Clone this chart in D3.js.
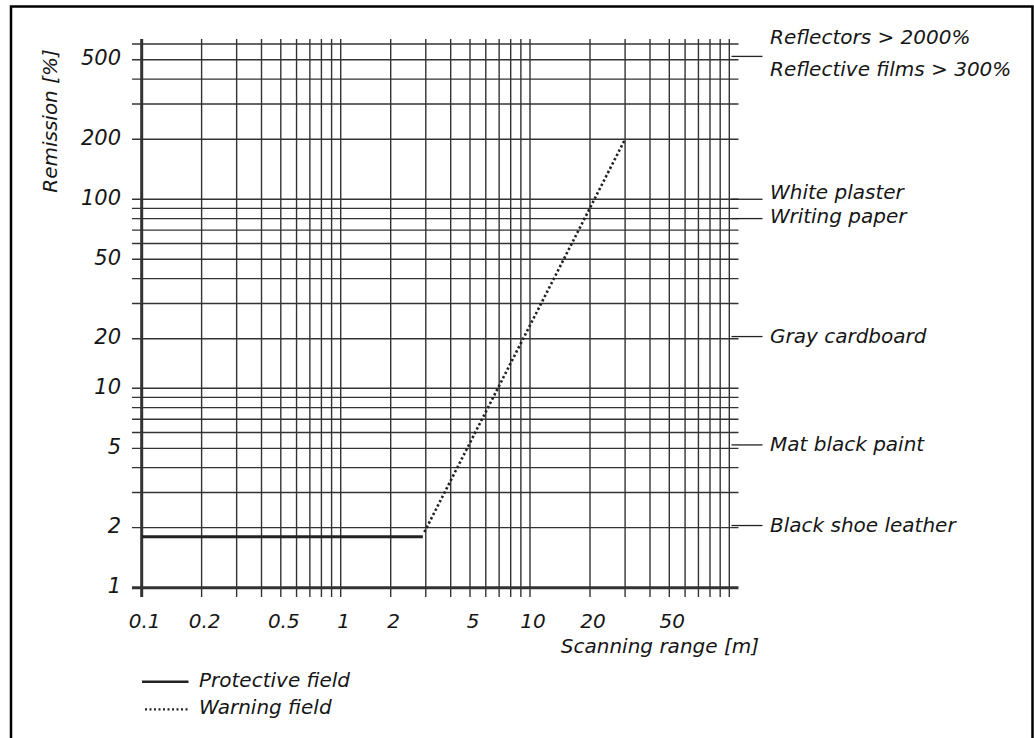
<!DOCTYPE html>
<html>
<head>
<meta charset="utf-8">
<script src="https://cdn.jsdelivr.net/npm/d3@7"></script>
<style>
  body { margin: 0; background: #fff; }
  text { font-family: "DejaVu Sans", sans-serif; font-style: italic; fill: #161616; }
</style>
</head>
<body>
<div id="chart"></div>
<script>
// scanning range [m] vs remission [%]
var xTickLabels = [0.1, 0.2, 0.5, 1, 2, 5, 10, 20, 50];
var yTickLabels = [1, 2, 5, 10, 20, 50, 100, 200, 500];

var protectiveField = [[0.1, 1.8], [2.9, 1.8]];
var warningField = [[2.95, 1.9], [30, 200]];

var materialNames = ["Reflectors > 2000%\nReflective films > 300%", "White plaster", "Writing paper",
                     "Gray cardboard", "Mat black paint", "Black shoe leather"];
var materialValues = [520, 100, 80, 20.5, 5.2, 2.05];

var legendNames = ["Protective field", "Warning field"];

var width = 1034, height = 738;

var svg = d3.select("#chart").append("svg")
    .attr("width", width)
    .attr("height", height);

// the printed chart squeezes the 1..2 step a bit, so the scales are piecewise
var x = d3.scaleLog()
    .domain([0.1, 1, 2, 100])
    .range([141.7, 340.7, 390.7, 729.3]);
var y = d3.scaleLog()
    .domain([1, 10, 20, 600])
    .range([587.7, 388.3, 338.7, 44]);

var gridTop = 39, gridBottom = 597, gridLeft = 132, gridRight = 738.5;

// frame (open at the bottom)
svg.append("path")
    .attr("d", "M11," + (height + 5) + "V6.5H1032.5V" + (height + 5))
    .attr("fill", "none")
    .attr("stroke", "#000")
    .attr("stroke-width", 2.5);

var grid = svg.append("g");

grid.selectAll(".vline")
  .data(x.ticks())
  .enter().append("line")
    .attr("class", "vline")
    .attr("x1", function(d) { return x(d); })
    .attr("x2", function(d) { return x(d); })
    .attr("y1", gridTop)
    .attr("y2", gridBottom)
    .attr("stroke", "#333")
    .attr("stroke-width", function(d) { return d === 0.1 ? 3 : 1.4; });

grid.selectAll(".hline")
  .data(y.ticks())
  .enter().append("line")
    .attr("class", "hline")
    .attr("x1", gridLeft)
    .attr("x2", gridRight)
    .attr("y1", function(d) { return y(d); })
    .attr("y2", function(d) { return y(d); })
    .attr("stroke", "#333")
    .attr("stroke-width", function(d) { return d === 1 ? 3 : 1.4; });

// tick labels
var fmt = d3.format("~g");

svg.append("g")
  .selectAll("text")
  .data(yTickLabels)
  .enter().append("text")
    .attr("x", 121)
    .attr("y", function(d) { return y(d) + 5.5; })
    .attr("text-anchor", "end")
    .style("font-size", "21px")
    .text(fmt);

svg.append("g")
  .selectAll("text")
  .data(xTickLabels)
  .enter().append("text")
    .attr("x", function(d) { return x(d) + 3; })
    .attr("y", 627.5)
    .attr("text-anchor", "middle")
    .style("font-size", "20px")
    .text(fmt);

// axis titles
svg.append("text")
    .attr("transform", "translate(57,121) rotate(-90)")
    .attr("text-anchor", "middle")
    .style("font-size", "20px")
    .text("Remission [%]");

svg.append("text")
    .attr("x", 759)
    .attr("y", 652.5)
    .attr("text-anchor", "end")
    .style("font-size", "20px")
    .text("Scanning range [m]");

// series
var line = d3.line()
    .x(function(d) { return x(d[0]); })
    .y(function(d) { return y(d[1]); });

svg.append("path")
    .datum(protectiveField)
    .attr("d", line)
    .attr("fill", "none")
    .attr("stroke", "#222")
    .attr("stroke-width", 3);

svg.append("path")
    .datum(warningField)
    .attr("d", line)
    .attr("fill", "none")
    .attr("stroke", "#222")
    .attr("stroke-width", 2.6)
    .attr("stroke-dasharray", "2.4,2.4");

// material labels on the right
var nudge = { "White plaster": -7, "Writing paper": -2 };

var mat = svg.append("g")
  .selectAll("g")
  .data(materialNames.map(function(n, i) { return { name: n, value: materialValues[i] }; }))
  .enter().append("g")
    .attr("transform", function(d) { return "translate(0," + y(d.value) + ")"; });

mat.append("line")
    .attr("x1", 731.5)
    .attr("x2", 762.5)
    .attr("stroke", "#222")
    .attr("stroke-width", 1.3);

mat.append("text")
    .attr("x", 770)
    .style("font-size", "20px")
    .each(function(d) {
      var lines = d.name.split("\n");
      var t = d3.select(this);
      if (lines.length > 1) {
        t.append("tspan").attr("x", 770).attr("y", -12).text(lines[0]);
        t.append("tspan").attr("x", 770).attr("y", 20).text(lines[1]);
      } else {
        t.attr("y", 6.5 + (nudge[d.name] || 0)).text(d.name);
      }
    });

// legend
var legend = svg.append("g")
  .selectAll("g")
  .data(legendNames)
  .enter().append("g")
    .attr("transform", function(d, i) { return "translate(0," + (681.7 + i * 27.6) + ")"; });

legend.append("line")
    .attr("x1", function(d, i) { return i ? 145 : 142; })
    .attr("x2", 188.5)
    .attr("stroke", "#222")
    .attr("stroke-width", function(d, i) { return i ? 2.2 : 2.6; })
    .attr("stroke-dasharray", function(d, i) { return i ? "2,2.5" : null; });

legend.append("text")
    .attr("x", 199)
    .attr("y", 5)
    .style("font-size", "20px")
    .text(function(d) { return d; });
</script>
</body>
</html>
